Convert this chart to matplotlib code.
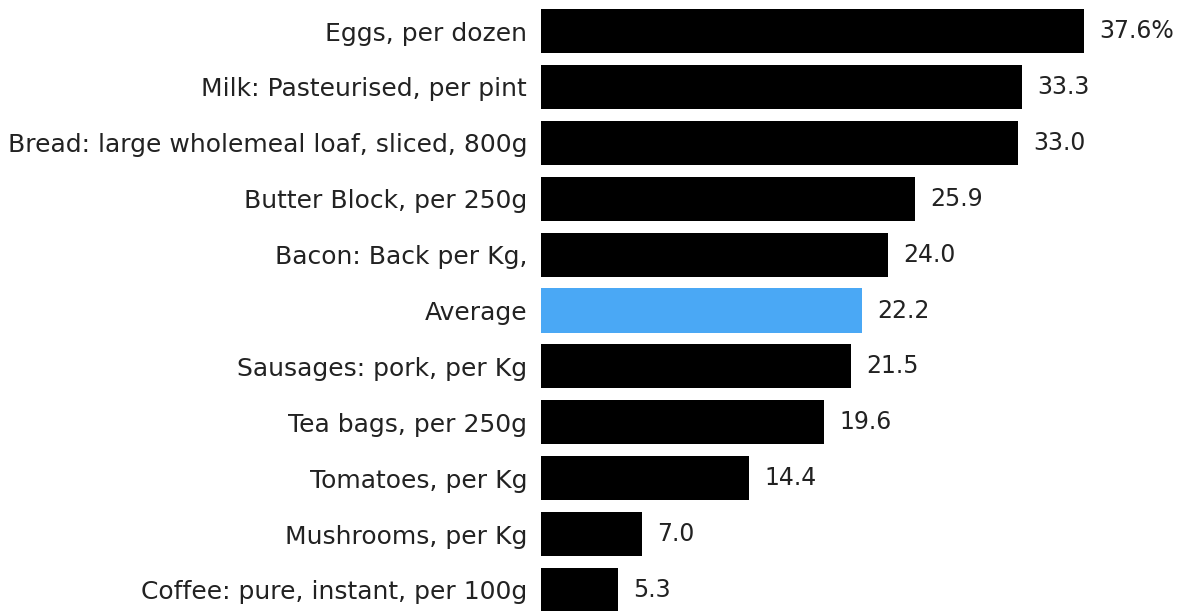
import matplotlib
matplotlib.use("Agg")
import matplotlib.pyplot as plt

items = [
    "Eggs, per dozen",
    "Milk: Pasteurised, per pint",
    "Bread: large wholemeal loaf, sliced, 800g",
    "Butter Block, per 250g",
    "Bacon: Back per Kg,",
    "Average",
    "Sausages: pork, per Kg",
    "Tea bags, per 250g",
    "Tomatoes, per Kg",
    "Mushrooms, per Kg",
    "Coffee: pure, instant, per 100g",
]
changes = [37.6, 33.3, 33.0, 25.9, 24.0, 22.2, 21.5, 19.6, 14.4, 7.0, 5.3]
value_labels = ["37.6%", "33.3", "33.0", "25.9", "24.0", "22.2",
                "21.5", "19.6", "14.4", "7.0", "5.3"]

plt.rcParams["font.family"] = ["DejaVu Sans"]

W, H = 1192, 611
fig = plt.figure(figsize=(W / 100, H / 100), dpi=100)
ax = fig.add_axes([541 / W, 0, 650 / W, 1])

colors = ["#4aa8f5" if name == "Average" else "#000000" for name in items]
ypos = list(range(len(items)))
ax.barh(ypos, changes, height=0.79, color=colors)

text_color = "#222222"
for y, v, lab in zip(ypos, changes, value_labels):
    ax.annotate(lab, (v, y), xytext=(11, 0), textcoords="offset points",
                ha="left", va="center", fontsize=17, color=text_color)

ax.set_yticks(ypos)
ax.set_yticklabels(items, fontsize=18, color=text_color)
ax.tick_params(axis="y", length=0, pad=10)
ax.set_xticks([])
ax.set_xlim(0, 650 / 14.44)
ax.set_ylim(10 + 21 / 55.9, -31 / 55.9)
for s in ax.spines.values():
    s.set_visible(False)

fig.savefig("out.png", dpi=100, facecolor="white")
